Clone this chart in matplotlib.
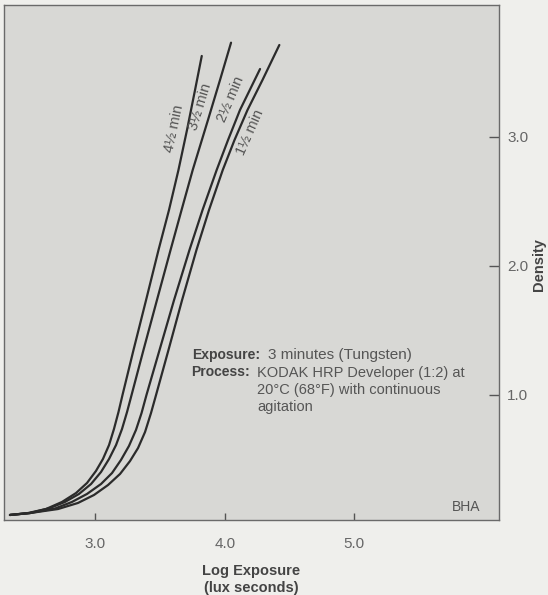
import matplotlib
matplotlib.use("Agg")
import matplotlib.pyplot as plt

plt.rcParams['font.family'] = ['Liberation Sans', 'DejaVu Sans']

# ---- data: characteristic curves (log exposure, density) ----
x_45 = [2.341, 2.480, 2.619, 2.743, 2.851, 2.936, 3.005, 3.059, 3.106, 3.144, 3.179,
        3.210, 3.295, 3.392, 3.488, 3.569, 3.642, 3.708, 3.770, 3.822]
d_45 = [0.070, 0.085, 0.116, 0.171, 0.240, 0.318, 0.411, 0.504, 0.612, 0.736, 0.868,
        1.000, 1.349, 1.736, 2.124, 2.434, 2.744, 3.054, 3.364, 3.628]

x_35 = [2.341, 2.496, 2.650, 2.766, 2.874, 2.967, 3.044, 3.106, 3.160, 3.206, 3.245,
        3.280, 3.372, 3.476, 3.581, 3.666, 3.752, 3.870, 3.963, 4.048]
d_35 = [0.070, 0.085, 0.124, 0.171, 0.233, 0.310, 0.403, 0.504, 0.612, 0.736, 0.868,
        1.000, 1.349, 1.736, 2.124, 2.434, 2.744, 3.132, 3.442, 3.731]

x_25 = [2.341, 2.496, 2.689, 2.820, 2.936, 3.044, 3.129, 3.198, 3.260, 3.314, 3.357,
        3.395, 3.496, 3.608, 3.727, 3.828, 3.937, 4.025, 4.117, 4.272]
d_25 = [0.070, 0.085, 0.120, 0.171, 0.233, 0.310, 0.395, 0.496, 0.605, 0.729, 0.860,
        1.000, 1.349, 1.736, 2.124, 2.434, 2.744, 2.977, 3.209, 3.527]

x_15 = [2.341, 2.496, 2.712, 2.866, 2.990, 3.098, 3.191, 3.268, 3.330, 3.384, 3.430,
        3.469, 3.565, 3.670, 3.781, 3.878, 3.984, 4.075, 4.175, 4.291, 4.421]
d_15 = [0.070, 0.085, 0.116, 0.163, 0.225, 0.302, 0.388, 0.488, 0.589, 0.713, 0.860,
        1.000, 1.349, 1.736, 2.124, 2.434, 2.744, 2.977, 3.209, 3.442, 3.713]

curve_labels = ["4½ min", "3½ min", "2½ min", "1½ min"]
label_pos_x = [3.608, 3.808, 4.048, 4.195]
label_pos_y = [3.062, 3.233, 3.295, 3.039]
label_rot = [78, 73, 67, 66]

x_ticks = [3.0, 4.0, 5.0]
x_tick_labels = ["3.0", "4.0", "5.0"]
y_ticks = [1.0, 2.0, 3.0]
y_tick_labels = ["1.0", "2.0", "3.0"]

# ---- figure ----
W, H = 548, 595
fig = plt.figure(figsize=(W / 100, H / 100), dpi=100)
fig.patch.set_facecolor('#efefec')
ax = fig.add_axes([4 / W, 1 - 520 / H, 495 / W, 515 / H])
ax.set_facecolor('#d8d8d5')

line_color = '#2b2b2b'
for xs, ds in [(x_45, d_45), (x_35, d_35), (x_25, d_25), (x_15, d_15)]:
    ax.plot(xs, ds, color=line_color, lw=1.6, solid_capstyle='round', solid_joinstyle='round')

for lab, lx, ly, rot in zip(curve_labels, label_pos_x, label_pos_y, label_rot):
    ax.text(lx, ly, lab, rotation=rot, ha='center', va='center', fontsize=10.5, color='#555555')

ax.set_xlim(2.295, 6.117)
ax.set_ylim(0.031, 4.023)

ax.set_xticks(x_ticks)
ax.set_xticklabels(x_tick_labels)
ax.set_yticks(y_ticks)
ax.set_yticklabels(y_tick_labels)
ax.yaxis.tick_right()
ax.tick_params(axis='x', direction='in', length=5, width=1, color='#555555',
               labelsize=11, labelcolor='#666666', pad=12)
ax.tick_params(axis='y', direction='in', length=7, width=1, color='#555555',
               labelsize=11, labelcolor='#666666', pad=6)
ax.tick_params(axis='y', which='both', left=False, right=True)

for s in ax.spines.values():
    s.set_color('#6a6a6a')
    s.set_linewidth(1.0)

ax.text(0.962, 0.012, "BHA", transform=ax.transAxes, ha='right', va='bottom',
        fontsize=10, color='#555555')

# annotation block
def fx(px):
    return px / W

def fy(py):
    return 1 - py / H

fig.text(fx(192.5), fy(355), "Exposure:", fontsize=10, fontweight='bold', color='#444444', va='center')
fig.text(fx(268), fy(355), "3 minutes (Tungsten)", fontsize=11, color='#555555', va='center')
fig.text(fx(191.5), fy(372.5), "Process:", fontsize=10, fontweight='bold', color='#444444', va='center')
fig.text(fx(257), fy(372.5), "KODAK HRP Developer (1:2) at", fontsize=10.5, color='#555555', va='center')
fig.text(fx(257), fy(390), "20°C (68°F) with continuous", fontsize=10.5, color='#555555', va='center')
fig.text(fx(257), fy(406.5), "agitation", fontsize=10.5, color='#555555', va='center')

# axis titles
fig.text(fx(251), fy(571), "Log Exposure", fontsize=10.5, fontweight='bold', color='#444444',
         ha='center', va='center')
fig.text(fx(251), fy(588), "(lux seconds)", fontsize=10.5, fontweight='bold', color='#444444',
         ha='center', va='center')
fig.text(fx(539), fy(265), "Density", fontsize=10.5, fontweight='bold', color='#444444',
         ha='center', va='center', rotation=90)

fig.savefig("out.png", dpi=100, facecolor=fig.get_facecolor())
